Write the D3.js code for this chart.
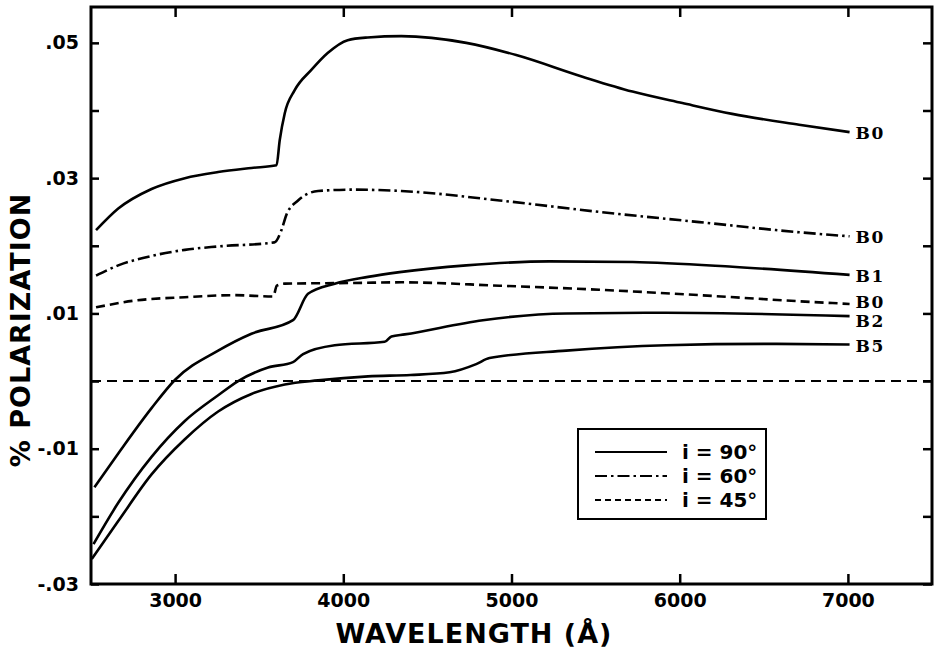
<!DOCTYPE html>
<html>
<head>
<meta charset="utf-8">
<script src="https://cdn.jsdelivr.net/npm/d3@7"></script>
<style>
  body { margin: 0; background: #fff; }
  svg { display: block; }
</style>
</head>
<body>
<div id="chart"></div>
<script>
// Dữ liệu: bước sóng (Å) và độ phân cực
const wl90B0 = [2530, 2662, 2860, 3058, 3256, 3454, 3603, 3622, 3652, 3711, 3810, 3907, 4026, 4145, 4345, 4731, 5028, 5422, 5719, 6016, 6312, 6710, 7010];
const pol90B0 = [0.0223, 0.0255, 0.0284, 0.0300, 0.0309, 0.0315, 0.0319, 0.0356, 0.0396, 0.0430, 0.0460, 0.0485, 0.0504, 0.0508, 0.0510, 0.0500, 0.0482, 0.0450, 0.0428, 0.0411, 0.0395, 0.0379, 0.0368];

const wl60B0 = [2530, 2662, 2860, 3058, 3256, 3590, 3632, 3662, 3731, 3850, 4048, 4345, 4929, 5523, 6117, 6710, 7010];
const pol60B0 = [0.0156, 0.0171, 0.0185, 0.0194, 0.0199, 0.0205, 0.0223, 0.0246, 0.0267, 0.0281, 0.0283, 0.0281, 0.0267, 0.0250, 0.0235, 0.0220, 0.0214];

const wl45B0 = [2530, 2761, 3058, 3355, 3583, 3605, 3652, 4048, 4345, 4929, 5523, 6117, 6710, 7010];
const pol45B0 = [0.0109, 0.0119, 0.0124, 0.0127, 0.0125, 0.0141, 0.0144, 0.0145, 0.0146, 0.0141, 0.0135, 0.0127, 0.0118, 0.0114];

const wl90B1 = [2520, 2662, 2860, 3000, 3256, 3454, 3701, 3790, 3949, 4147, 4335, 4731, 5225, 5720, 6314, 7010];
const pol90B1 = [-0.0157, -0.0107, -0.0040, 0.0002, 0.0045, 0.0070, 0.0090, 0.0129, 0.0144, 0.0154, 0.0161, 0.0171, 0.0177, 0.0176, 0.0169, 0.0157];

const wl90B2 = [2515, 2662, 2860, 3058, 3256, 3375, 3553, 3701, 3761, 3949, 4246, 4286, 4365, 4830, 5325, 5918, 7010];
const pol90B2 = [-0.0241, -0.0180, -0.0112, -0.0059, -0.0021, 0.0000, 0.0020, 0.0028, 0.0040, 0.0053, 0.0058, 0.0066, 0.0069, 0.0090, 0.0100, 0.0101, 0.0096];

const wl90B5 = [2505, 2662, 2860, 3058, 3256, 3454, 3652, 3850, 4147, 4400, 4632, 4790, 4869, 5325, 5919, 6512, 7010];
const pol90B5 = [-0.0263, -0.0207, -0.0138, -0.0086, -0.0045, -0.0019, -0.0005, 0.0001, 0.0007, 0.0009, 0.0013, 0.0025, 0.0034, 0.0045, 0.0053, 0.0055, 0.0054];

const zeroLine = [2500, 7500];

const xTicks = [3000, 4000, 5000, 6000, 7000];
const yTicks = [-0.03, -0.02, -0.01, 0, 0.01, 0.02, 0.03, 0.04, 0.05];
const yTickLabels = { "-0.03": "-.03", "-0.01": "-.01", "0.01": ".01", "0.03": ".03", "0.05": ".05" };

const legendLabels = ["i = 90°", "i = 60°", "i = 45°"];

// Các đường cong: kiểu nét theo góc nghiêng i
const curves = [
    { wl: wl90B0, pol: pol90B0, label: "B0", style: "solid" },
    { wl: wl60B0, pol: pol60B0, label: "B0", style: "dashdot" },
    { wl: wl45B0, pol: pol45B0, label: "B0", style: "dashed" },
    { wl: wl90B1, pol: pol90B1, label: "B1", style: "solid" },
    { wl: wl90B2, pol: pol90B2, label: "B2", style: "solid" },
    { wl: wl90B5, pol: pol90B5, label: "B5", style: "solid" },
];

const dashes = { solid: null, dashdot: "12,4,2.5,4", dashed: "9,5" };

// Kích thước
const W = 938, H = 658;
const margin = { top: 7, right: 6, bottom: 74, left: 91 };
const width = W - margin.left - margin.right;
const height = H - margin.top - margin.bottom;

const svg = d3.select("#chart").append("svg")
    .attr("width", W)
    .attr("height", H);

const g = svg.append("g")
    .attr("transform", `translate(${margin.left},${margin.top})`);

const x = d3.scaleLinear().domain([2500, 7500]).range([0, width]);
const y = d3.scaleLinear().domain([-0.03, 0.0553]).range([height, 0]);

const tickFont = "'DejaVu Sans', sans-serif";

// Trục dưới
const xAxis = g.append("g")
    .attr("transform", `translate(0,${height})`)
    .call(d3.axisBottom(x).tickValues(xTicks).tickSizeInner(-10).tickSizeOuter(0).tickPadding(10).tickFormat(d3.format("d")));
// Trục trên
const xAxisTop = g.append("g")
    .call(d3.axisTop(x).tickValues(xTicks).tickSizeInner(-10).tickSizeOuter(0).tickFormat(""));
// Trục trái
const yAxis = g.append("g")
    .call(d3.axisLeft(y).tickValues(yTicks).tickSizeInner(-8).tickSizeOuter(0).tickPadding(12)
        .tickFormat(d => yTickLabels[String(+d.toFixed(2))] || ""));
// Trục phải
const yAxisRight = g.append("g")
    .attr("transform", `translate(${width},0)`)
    .call(d3.axisRight(y).tickValues(yTicks).tickSizeInner(-9).tickSizeOuter(0).tickFormat(""));

[xAxis, xAxisTop, yAxis, yAxisRight].forEach(a => {
    a.select(".domain").remove();
    a.selectAll(".tick line").attr("stroke", "#000").attr("stroke-width", 2.5);
    a.selectAll("text")
        .style("font-family", tickFont)
        .style("font-weight", "bold")
        .style("font-size", "19px")
        .attr("fill", "#000");
});

// Khung
g.append("rect")
    .attr("x", 0).attr("y", 0)
    .attr("width", width).attr("height", height)
    .attr("fill", "none")
    .attr("stroke", "#000")
    .attr("stroke-width", 3);

// Đường 0
g.append("line")
    .attr("x1", x(zeroLine[0])).attr("x2", x(zeroLine[1]))
    .attr("y1", y(0)).attr("y2", y(0))
    .attr("stroke", "#000")
    .attr("stroke-width", 2)
    .attr("stroke-dasharray", "10,6");

const line = d3.line()
    .x(d => x(d[0]))
    .y(d => y(d[1]))
    .curve(d3.curveMonotoneX);

curves.forEach(c => {
    const pts = c.wl.map((w, i) => [w, c.pol[i]]);
    g.append("path")
        .attr("d", line(pts))
        .attr("fill", "none")
        .attr("stroke", "#000")
        .attr("stroke-width", 2.6)
        .attr("stroke-linejoin", "round")
        .attr("stroke-dasharray", dashes[c.style]);
});

// Nhãn cuối đường: đẩy ra xa nhau nếu quá sát
const labelGap = 19;
const labels = curves.map(c => {
    const n = c.wl.length - 1;
    return { text: c.label, x: x(c.wl[n]) + 6, y: y(c.pol[n]) + 1 };
}).sort((a, b) => a.y - b.y);
for (let k = 0; k < 20; k++) {
    for (let i = 1; i < labels.length; i++) {
        const d = labels[i].y - labels[i - 1].y;
        if (d < labelGap) {
            const push = (labelGap - d) / 2;
            labels[i].y += push;
            labels[i - 1].y -= push;
        }
    }
}
g.selectAll(".curve-label")
    .data(labels)
    .enter()
    .append("text")
    .attr("class", "curve-label")
    .attr("x", d => d.x)
    .attr("y", d => d.y)
    .attr("dy", "0.36em")
    .style("font-family", "'DejaVu Serif', serif")
    .style("font-weight", "bold")
    .style("font-size", "17px")
    .style("letter-spacing", "1.5px")
    .text(d => d.text);

// Chú giải
const legend = g.append("g").attr("transform", `translate(${578 - margin.left},${429 - margin.top})`);
legend.append("rect")
    .attr("width", 188).attr("height", 90)
    .attr("fill", "#fff")
    .attr("stroke", "#000")
    .attr("stroke-width", 2);
["solid", "dashdot", "dashed"].forEach((s, i) => {
    const ly = 23 + i * 24;
    legend.append("line")
        .attr("x1", 17).attr("x2", 89)
        .attr("y1", ly).attr("y2", ly)
        .attr("stroke", "#000")
        .attr("stroke-width", 2)
        .attr("stroke-dasharray", s === "dashed" ? "6,4" : dashes[s]);
    legend.append("text")
        .attr("x", 104)
        .attr("y", ly)
        .attr("dy", "0.35em")
        .style("font-family", tickFont)
        .style("font-weight", "bold")
        .style("font-size", "20px")
        .text(legendLabels[i]);
});

// Tiêu đề trục
svg.append("text")
    .attr("x", 474)
    .attr("y", 643)
    .attr("text-anchor", "middle")
    .style("font-family", tickFont)
    .style("font-weight", "bold")
    .style("font-size", "27px")
    .style("letter-spacing", "1px")
    .text("WAVELENGTH (Å)");

svg.append("text")
    .attr("transform", "translate(30,330) rotate(-90)")
    .attr("text-anchor", "middle")
    .style("font-family", tickFont)
    .style("font-weight", "bold")
    .style("font-size", "27px")
    .style("letter-spacing", "1px")
    .text("% POLARIZATION");
</script>
</body>
</html>
